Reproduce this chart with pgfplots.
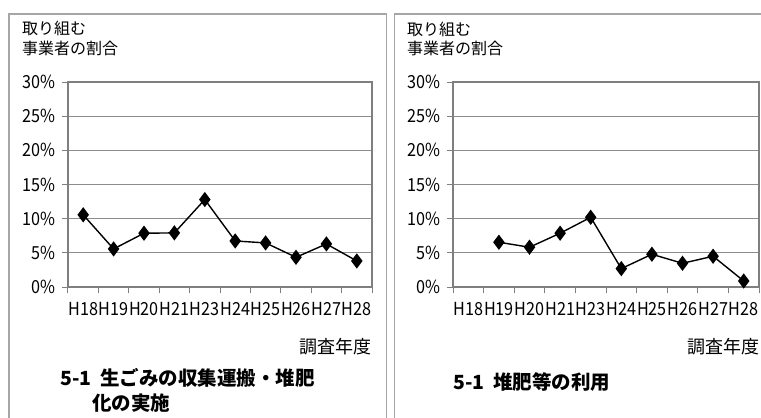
\documentclass[border=0pt]{standalone}
\usepackage{fontspec}
\usepackage{pgfplots}
\pgfplotsset{compat=1.18}
\setmainfont{Noto Sans CJK JP}
\newfontfamily\tickfont[FakeStretch=0.90]{Noto Sans CJK JP}
\definecolor{gridc}{HTML}{8C8C8C}
\definecolor{axisc}{HTML}{7F7F7F}
\definecolor{framec}{HTML}{A6A6A6}

\pgfplotstableread{
x y
0 10.56
1 5.57
2 7.87
3 7.92
4 12.8
5 6.74
6 6.45
7 4.35
8 6.30
9 3.81
}\dataA
\pgfplotstableread{
x y
1 6.55
2 5.82
3 7.87
4 10.2
5 2.69
6 4.79
7 3.47
8 4.50
9 0.88
}\dataB

\pgfplotsset{
  panel/.style={
    scale only axis, height=205pt,
    xmin=-0.5, xmax=9.5, ymin=0, ymax=30,
    xtick={0,...,9},
    xticklabels={H18,H19,H20,H21,H23,H24,H25,H26,H27,H28},
    minor xtick={-0.5,0.5,...,9.5},
    ytick={0,5,...,30},
    yticklabels={0\%,5\%,10\%,15\%,20\%,25\%,30\%},
    tick pos=left, tick align=outside,
    major tick length=6pt, minor tick length=6pt,
    major x tick style={draw=none},
    tick style={axisc, line width=1pt},
    ymajorgrids, major grid style={gridc, line width=0.9pt},
    axis line style={axisc, line width=1.1pt},
    ticklabel style={font=\tickfont\fontsize{18}{18}\selectfont, text=black},
    xticklabel style={yshift=-6pt},
    yticklabel style={xshift=-3pt},
    clip=false,
  },
  ser/.style={black, line width=1.4pt, mark=diamond*, mark size=6.5pt, mark options={solid, fill=black}},
}

\begin{document}
\begin{tikzpicture}
\useasboundingbox (0,0) rectangle (761pt,418pt);
\fill[white] (0,0) rectangle (761pt,418pt);
% panel frames
\draw[framec, line width=1.2pt] (9pt,-5pt) |- (386.7pt,404pt) -- (386.7pt,-5pt);
\draw[framec, line width=1.2pt] (394.3pt,-5pt) |- (775pt,404pt);

% left panel
\begin{axis}[panel, width=304pt, at={(68pt,131pt)}, anchor=south west]
\addplot[ser] table[x=x,y=y] {\dataA};
\end{axis}
\node[anchor=west, inner sep=0pt, font=\fontsize{16}{16}\selectfont] at (22pt,389.5pt) {取り組む};
\node[anchor=west, inner sep=0pt, font=\fontsize{16}{16}\selectfont] at (22pt,369.5pt) {事業者の割合};
\node[anchor=east, inner sep=0pt, font=\fontsize{18}{18}\selectfont] at (372pt,71pt) {調査年度};
\node[anchor=west, inner sep=0pt, font=\fontsize{19.5}{19.5}\selectfont\bfseries] at (60pt,40.5pt) {5-1\hspace{0.45em}生ごみの収集運搬・堆肥};
\node[anchor=west, inner sep=0pt, font=\fontsize{19.5}{19.5}\selectfont\bfseries] at (92pt,15pt) {化の実施};

% right panel
\begin{axis}[panel, width=306pt, at={(453pt,131pt)}, anchor=south west]
\addplot[ser] table[x=x,y=y] {\dataB};
\end{axis}
\node[anchor=west, inner sep=0pt, font=\fontsize{16}{16}\selectfont] at (407pt,389pt) {取り組む};
\node[anchor=west, inner sep=0pt, font=\fontsize{16}{16}\selectfont] at (407pt,369.5pt) {事業者の割合};
\node[anchor=east, inner sep=0pt, font=\fontsize{18}{18}\selectfont] at (760pt,71pt) {調査年度};
\node[anchor=west, inner sep=0pt, font=\fontsize{19.5}{19.5}\selectfont\bfseries] at (453pt,36pt) {5-1\hspace{0.45em}堆肥等の利用};
\end{tikzpicture}
\end{document}
